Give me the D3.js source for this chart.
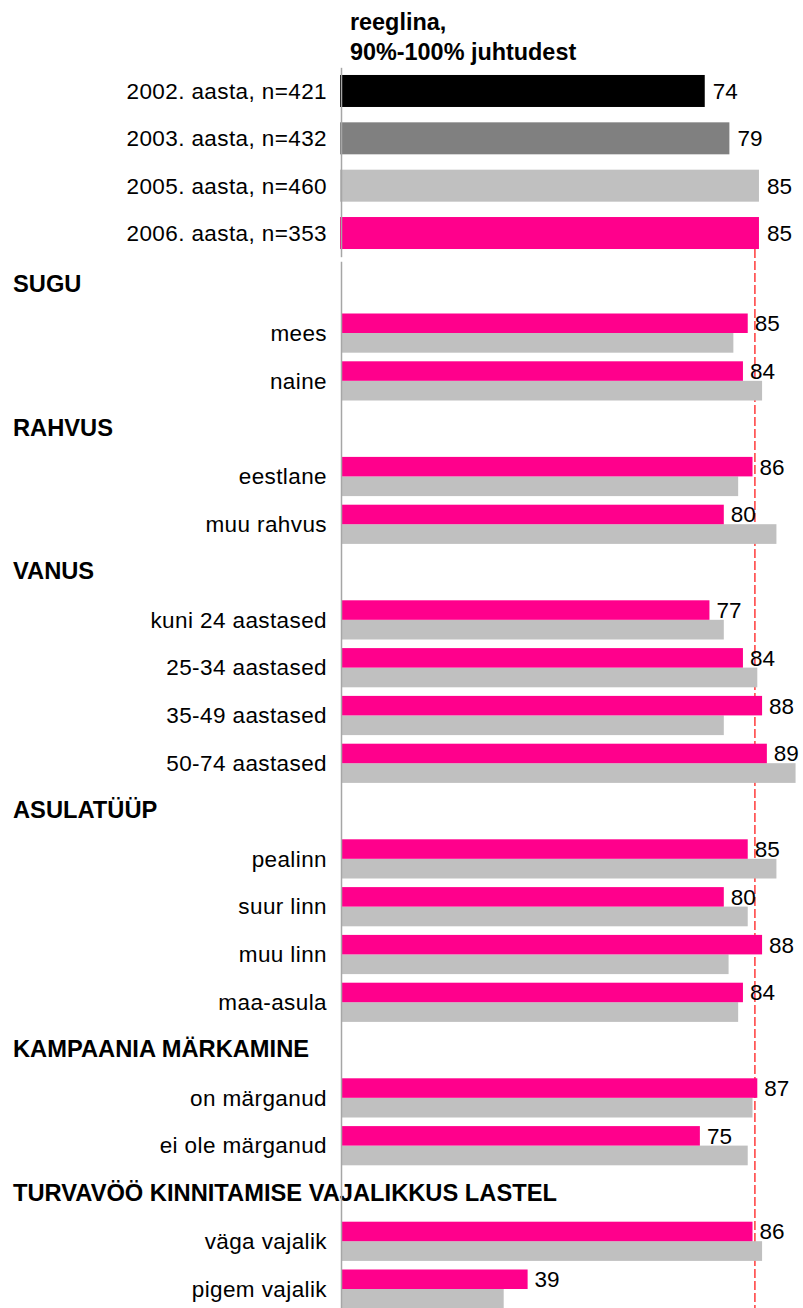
<!DOCTYPE html>
<html>
<head>
<meta charset="utf-8">
<script src="https://d3js.org/d3.v7.min.js"></script>
<style>
  html, body { margin: 0; padding: 0; background: #fff; }
  svg { display: block; font-family: Arial, "Liberation Sans", sans-serif; }
</style>
</head>
<body>
<div id="chart"></div>
<script>
// overall results by survey year
const yearLabels = ['2002. aasta, n=421', '2003. aasta, n=432', '2005. aasta, n=460', '2006. aasta, n=353'];
const yearValues = [74, 79, 85, 85];

// breakdown groups (2006 = pink, 2005 = gray)
const groupNames = ['SUGU', 'RAHVUS', 'VANUS', 'ASULATÜÜP', 'KAMPAANIA MÄRKAMINE', 'TURVAVÖÖ KINNITAMISE VAJALIKKUS LASTEL'];
const subLabels = ['mees', 'naine', 'eestlane', 'muu rahvus', 'kuni 24 aastased', '25-34 aastased', '35-49 aastased', '50-74 aastased',
  'pealinn', 'suur linn', 'muu linn', 'maa-asula', 'on märganud', 'ei ole märganud', 'väga vajalik', 'pigem vajalik'];
const subGroup = ['SUGU', 'SUGU', 'RAHVUS', 'RAHVUS', 'VANUS', 'VANUS', 'VANUS', 'VANUS',
  'ASULATÜÜP', 'ASULATÜÜP', 'ASULATÜÜP', 'ASULATÜÜP', 'KAMPAANIA MÄRKAMINE', 'KAMPAANIA MÄRKAMINE',
  'TURVAVÖÖ KINNITAMISE VAJALIKKUS LASTEL', 'TURVAVÖÖ KINNITAMISE VAJALIKKUS LASTEL'];
const values2006 = [85, 84, 86, 80, 77, 84, 88, 89, 85, 80, 88, 84, 87, 75, 86, 39];
const values2005 = [82, 88, 83, 91, 80, 87, 80, 95, 91, 85, 81, 83, 86, 85, 88, 34];
const refValue = 86.5;

const width = 803, height = 1308;
const axisX = 341;

const svg = d3.select('#chart').append('svg')
  .attr('width', width)
  .attr('height', height)
  .attr('xmlns', 'http://www.w3.org/2000/svg');

svg.append('rect').attr('width', width).attr('height', height).attr('fill', '#fff');

// scales - the two panels were drawn at slightly different widths
const xTop = d3.scaleLinear().domain([0, 100]).range([340, 340 + 492.9]);
const xSub = d3.scaleLinear().domain([0, 100]).range([axisX, axisX + 478.5]);

const yTop = d3.scaleBand().domain(yearLabels).range([67.3, 256.7]).padding(0);

// rows of lower panel: header followed by its items
const rows = [];
groupNames.forEach(g => {
  rows.push({ key: 'h:' + g, label: g, header: true });
  subLabels.forEach((l, i) => {
    if (subGroup[i] === g) rows.push({ key: l, label: l, header: false, v06: values2006[i], v05: values2005[i] });
  });
});
const ySub = d3.scaleBand().domain(rows.map(r => r.key)).range([261.3, 261.3 + rows.length * 47.8]).padding(0);

const yearColor = d3.scaleOrdinal().domain(yearLabels).range(['#000000', '#808080', '#c0c0c0', '#ff008c']);
const pink = '#ff008c', gray = '#c0c0c0';

// title
const title = svg.append('text')
  .attr('x', 350)
  .attr('font-size', '23.4px')
  .attr('font-weight', 'bold')
  .attr('fill', '#000');
title.append('tspan').attr('x', 350).attr('y', 30).text('reeglina,');
title.append('tspan').attr('x', 350).attr('y', 59.5).text('90%-100% juhtudest');

// reference line (behind bars)
svg.append('line')
  .attr('x1', xSub(refValue)).attr('x2', xSub(refValue))
  .attr('y1', 249).attr('y2', height)
  .attr('stroke', '#ff3b3b')
  .attr('stroke-width', 1.5)
  .attr('stroke-dasharray', '9,3');

// top panel
svg.append('g')
  .selectAll('rect')
  .data(yearLabels)
  .join('rect')
  .attr('x', xTop(0))
  .attr('y', d => yTop(d) + yTop.bandwidth() / 2 - 16)
  .attr('width', (d, i) => xTop(yearValues[i]) - xTop(0))
  .attr('height', 32)
  .attr('fill', d => yearColor(d));

svg.append('g')
  .selectAll('text')
  .data(yearLabels)
  .join('text')
  .attr('x', 327)
  .attr('y', d => yTop(d) + yTop.bandwidth() / 2)
  .attr('dy', '0.35em')
  .attr('text-anchor', 'end')
  .attr('font-size', '22.5px')
  .attr('letter-spacing', '0.4px')
  .text(d => d);

svg.append('g')
  .selectAll('text')
  .data(yearLabels)
  .join('text')
  .attr('x', (d, i) => xTop(yearValues[i]) + 8)
  .attr('y', d => yTop(d) + yTop.bandwidth() / 2)
  .attr('dy', '0.35em')
  .attr('font-size', '22.5px')
  .text((d, i) => yearValues[i]);

// lower panel
const items = rows.filter(r => !r.header);
const headers = rows.filter(r => r.header);
const mid = r => ySub(r.key) + ySub.bandwidth() / 2;

svg.append('g')
  .selectAll('rect')
  .data(items)
  .join('rect')
  .attr('x', xSub(0))
  .attr('y', r => mid(r))
  .attr('width', r => xSub(r.v05) - xSub(0))
  .attr('height', 19.7)
  .attr('fill', gray);

svg.append('g')
  .selectAll('rect')
  .data(items)
  .join('rect')
  .attr('x', xSub(0))
  .attr('y', r => mid(r) - 19.5)
  .attr('width', r => xSub(r.v06) - xSub(0))
  .attr('height', 19.5)
  .attr('fill', pink);

svg.append('g')
  .selectAll('text')
  .data(items)
  .join('text')
  .attr('x', 327)
  .attr('y', r => mid(r))
  .attr('dy', '0.35em')
  .attr('text-anchor', 'end')
  .attr('font-size', '22.5px')
  .attr('letter-spacing', '0.4px')
  .text(r => r.label);

svg.append('g')
  .selectAll('text')
  .data(items)
  .join('text')
  .attr('x', r => xSub(r.v06) + 7)
  .attr('y', r => mid(r) - 9.75)
  .attr('dy', '0.35em')
  .attr('font-size', '22.5px')
  .text(r => r.v06);

svg.append('g')
  .selectAll('text')
  .data(headers)
  .join('text')
  .attr('x', 13)
  .attr('y', r => mid(r) - 1)
  .attr('dy', '0.35em')
  .attr('font-size', '23.7px')
  .attr('font-weight', 'bold')
  .text(r => r.label);

// vertical axis lines
[yTop, ySub].forEach(sc => {
  const g = svg.append('g')
    .attr('transform', `translate(${axisX},0)`)
    .call(d3.axisLeft(sc).tickSize(0).tickSizeOuter(0).tickFormat(''));
  g.select('.domain').attr('stroke', '#a6a6a6').attr('stroke-width', 1.5);
});
</script>
</body>
</html>
